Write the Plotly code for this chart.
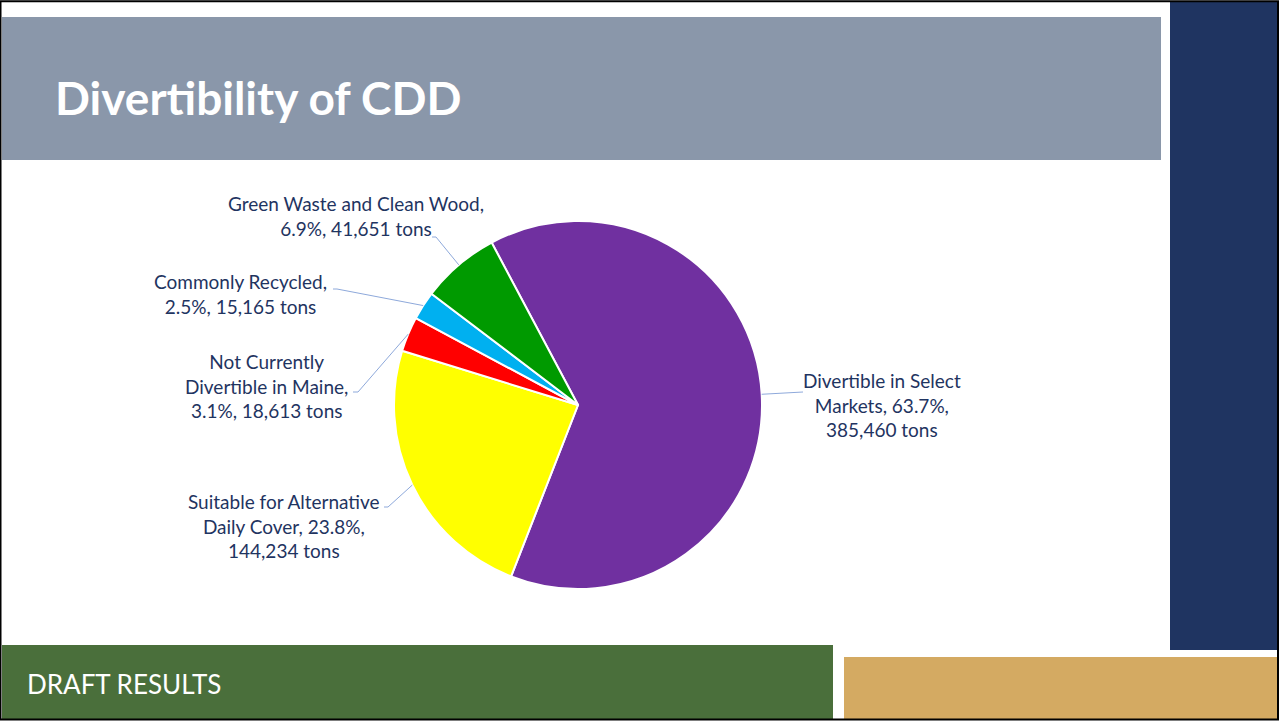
import math
import plotly.graph_objects as go

# ---- data -------------------------------------------------------------
categories = [
    "Divertible in Select Markets",
    "Suitable for Alternative Daily Cover",
    "Not Currently Divertible in Maine",
    "Commonly Recycled",
    "Green Waste and Clean Wood",
]
tons = [385460, 144234, 18613, 15165, 41651]
colors = ["#7030A0", "#FFFF00", "#FF0000", "#00B0F0", "#009A00"]

# how each slice label is broken into lines ({pct} and {tons} are filled in)
label_templates = [
    "Divertible in Select<br>Markets, {pct}%,<br>{tons} tons",
    "Suitable for Alternative<br>Daily Cover, {pct}%,<br>{tons} tons",
    "Not Currently<br>Divertible in Maine,<br>{pct}%, {tons} tons",
    "Commonly Recycled,<br>{pct}%, {tons} tons",
    "Green Waste and Clean Wood,<br>{pct}%, {tons} tons",
]

# ---- page geometry (pixels) --------------------------------------------
W, H = 1279, 721
CX, CY, R = 578, 405, 184        # pie centre and radius
START_DEG = -28                  # first slice starts 28 deg left of 12 o'clock

# label centre positions and leader-line elbows (pixels)
label_pos = [(882, 405), (284, 526), (266, 386), (240, 294), (356, 216)]
elbows = [
    [(803, 392)],
    [(388, 507), (384, 507)],
    [(358, 392), (353, 392)],
    [(337, 289), (333, 289)],
    [(436, 237), (432, 237)],
]

TEXT = "#1F3461"
FONT = "Lato"


def px(x):
    return x / W


def py(y):
    return 1 - y / H


fig = go.Figure()

fig.add_trace(go.Pie(
    labels=categories,
    values=tons,
    sort=False,
    direction="clockwise",
    rotation=START_DEG,
    marker=dict(colors=colors, line=dict(color="white", width=2)),
    textinfo="none",
    hoverinfo="label+value+percent",
    showlegend=False,
    domain=dict(x=[px(CX - R), px(CX + R)], y=[py(CY + R), py(CY - R)]),
))

shapes = []
annotations = []

# decorative slide blocks
def rect(x0, y0, x1, y1, color):
    shapes.append(dict(type="rect", xref="paper", yref="paper",
                       x0=px(x0), x1=px(x1), y0=py(y1), y1=py(y0),
                       fillcolor=color, line=dict(width=0), layer="below"))

rect(2, 17, 1161, 160, "#8A97AA")     # title banner
rect(1170, 2, 1279, 650, "#1F3461")   # navy side bar
rect(2, 645, 833, 719, "#4A6F3B")     # green footer
rect(844, 657, 1279, 719, "#D4AA62")  # tan footer block

# slide frame
shapes.append(dict(type="rect", xref="paper", yref="paper",
                   x0=px(0.5), x1=px(W - 1), y0=py(H - 1.5), y1=py(1.2),
                   fillcolor="rgba(0,0,0,0)", line=dict(color="black", width=2)))

# leader lines from each slice's mid-angle on the rim to its label
total = sum(tons)
cum = 0
for i, v in enumerate(tons):
    mid = START_DEG + (cum + v / 2) / total * 360
    cum += v
    a = math.radians(mid)
    rim = (CX + R * math.sin(a), CY - R * math.cos(a))
    pts = [rim] + elbows[i]
    path = "M " + " L ".join(f"{px(x)},{py(y)}" for x, y in pts)
    shapes.append(dict(type="path", xref="paper", yref="paper", path=path,
                       line=dict(color="#8EA9DB", width=1)))

    pct = f"{v / total * 100:.1f}"
    text = label_templates[i].format(pct=pct, tons=f"{v:,}")
    lx, ly = label_pos[i]
    annotations.append(dict(
        x=px(lx), y=py(ly), xref="paper", yref="paper",
        text=text, showarrow=False, align="center",
        xanchor="center", yanchor="middle",
        font=dict(family=FONT, size=19, color=TEXT),
    ))

# title and footer text
annotations.append(dict(
    x=px(53), y=py(98), xref="paper", yref="paper",
    text="<b>Divertibility of CDD</b>", showarrow=False,
    xanchor="left", yanchor="middle",
    font=dict(family=FONT, size=46, color="white"),
))
annotations.append(dict(
    x=px(25), y=py(684), xref="paper", yref="paper",
    text="DRAFT RESULTS", showarrow=False,
    xanchor="left", yanchor="middle",
    font=dict(family=FONT, size=26, color="white"),
))

fig.update_layout(
    width=W, height=H,
    margin=dict(l=0, r=0, t=0, b=0),
    paper_bgcolor="white",
    plot_bgcolor="white",
    shapes=shapes,
    annotations=annotations,
    showlegend=False,
)

fig.write_html("out.html")
